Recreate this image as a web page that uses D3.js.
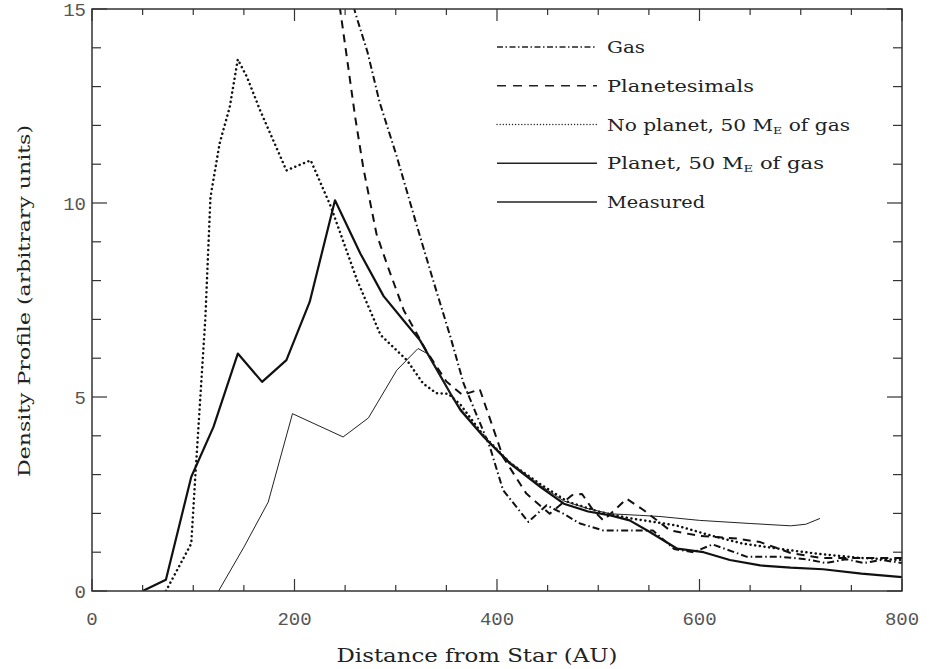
<!DOCTYPE html>
<html>
<head>
<meta charset="utf-8">
<script src="https://cdn.jsdelivr.net/npm/d3@7"></script>
<style>
  body { margin: 0; background: #fff; }
  svg { display: block; }
</style>
</head>
<body>
<svg id="chart" width="929" height="669"></svg>
<script>
// ---- data (x = distance in AU, y = density) ----
const gasData = [[252,15.8],[260,14.9],[272,13.9],[284,12.6],[301,11.2],[321,9.4],[337,8.0],[354,6.55],[367,5.35],[393,3.71],[406,2.6],[431,1.78],[449,2.21],[465,2.0],[482,1.74],[505,1.56],[554,1.56],[575,1.08],[594,1.0],[613,1.2],[647,0.88],[680,0.88],[705,0.82],[725,0.72],[745,0.82],[762,0.72],[780,0.8],[800,0.72]];
const planetesimalData = [[240,16.5],[245,15.0],[252,13.7],[260,12.2],[268,10.9],[281,9.2],[293,8.3],[308,7.23],[330,6.2],[350,5.4],[366,5.05],[383,5.2],[406,3.45],[429,2.51],[452,1.99],[474,2.47],[484,2.5],[495,2.08],[505,1.82],[518,2.13],[528,2.38],[545,2.08],[571,1.56],[600,1.42],[637,1.35],[660,1.26],[690,0.98],[720,0.85],[760,0.85],[800,0.85]];
const noPlanetData = [[73,0],[98,1.22],[102,2.94],[112,7.06],[117,10.15],[126,11.53],[136,12.47],[144,13.7],[153,13.25],[166,12.39],[192,10.84],[216,11.1],[236,9.9],[262,8.0],[285,6.6],[311,5.95],[327,5.35],[340,5.1],[352,5.08],[364,4.8],[387,4.0],[413,3.3],[443,2.75],[470,2.3],[500,2.05],[530,1.88],[577,1.69],[610,1.44],[643,1.22],[689,1.05],[720,0.95],[760,0.85],[800,0.8]];
const planetData = [[50,0],[73,0.29],[98,2.94],[120,4.23],[144,6.12],[168,5.39],[192,5.95],[215,7.45],[240,10.07],[265,8.7],[288,7.6],[310,6.9],[324,6.46],[354,5.09],[364,4.66],[387,3.97],[413,3.28],[443,2.68],[466,2.25],[490,2.05],[512,1.95],[531,1.82],[551,1.52],[578,1.09],[604,1.0],[630,0.8],[660,0.66],[690,0.6],[722,0.56],[760,0.45],[800,0.36]];
const measuredData = [[125,0],[150,1.13],[174,2.29],[198,4.57],[248,3.97],[273,4.46],[301,5.69],[322,6.25],[331,6.12],[350,5.26],[364,4.7],[387,4.0],[413,3.32],[443,2.72],[466,2.32],[490,2.12],[512,1.99],[541,1.95],[561,1.92],[600,1.82],[650,1.74],[690,1.68],[705,1.72],[719,1.87]];

const seriesNames = ["Gas", "Planetesimals", "No planet, 50 M|E| of gas", "Planet, 50 M|E| of gas", "Measured"];
const xTicks = [0, 200, 400, 600, 800];
const yTicks = [0, 5, 10, 15];
const xTitle = "Distance from Star (AU)";
const yTitle = "Density Profile (arbitrary units)";

// ---- layout ----
const svg = d3.select("#chart");
const L = 92, R = 902, T = 9, B = 591;
const x = d3.scaleLinear().domain([0, 800]).range([L, R]);
const y = d3.scaleLinear().domain([0, 15]).range([B, T]);

const styles = [
  { data: gasData, dash: "7,3,1.5,3", cap: "butt", width: 2.0, color: "#111", legDash: "6,2.5,1.5,2.5", legCap: "butt" },
  { data: planetesimalData, dash: "8,6", cap: "butt", width: 2.0, color: "#111", legDash: "9,7", legCap: "butt" },
  { data: noPlanetData, dash: "0.1,4.6", cap: "round", width: 2.5, color: "#111", legDash: "0.1,3", legCap: "round" },
  { data: planetData, dash: null, cap: "butt", width: 2.2, color: "#111", legDash: null, legCap: "butt" },
  { data: measuredData, dash: null, cap: "butt", width: 1.0, color: "#222", legDash: null, legCap: "butt" }
];

svg.append("clipPath").attr("id", "clip")
  .append("rect").attr("x", L).attr("y", T).attr("width", R - L).attr("height", B - T);

const line = d3.line().x(d => x(d[0])).y(d => y(d[1]));
const g = svg.append("g").attr("clip-path", "url(#clip)");
styles.forEach(s => {
  g.append("path").datum(s.data)
    .attr("d", line)
    .attr("fill", "none")
    .attr("stroke", s.color)
    .attr("stroke-width", s.width)
    .attr("stroke-linejoin", "round")
    .attr("stroke-linecap", s.cap)
    .attr("stroke-dasharray", s.dash);
});

// ---- axes (box with ticks on all sides) ----
const axisColor = "#333";
const xMinor = d3.range(0, 801, 50);
const yMinor = d3.range(0, 16, 1);
function tickLines(gr, data, fn) {
  gr.selectAll(null).data(data).enter().append("line").each(fn)
    .attr("stroke", axisColor).attr("stroke-width", 1.2);
}
const ax = svg.append("g");
const xAxisB = d3.axisBottom(x).tickValues(xMinor).tickSize(0).tickFormat("");
ax.append("g").attr("transform", `translate(0,${B})`).call(xAxisB).call(gg => gg.select(".domain").remove());
tickLines(ax, xMinor, function(d) {
  const len = (d % 200 === 0) ? 12 : 6;
  d3.select(this).attr("x1", x(d)).attr("x2", x(d)).attr("y1", B).attr("y2", B - len);
});
tickLines(ax, xMinor, function(d) {
  const len = (d % 200 === 0) ? 12 : 6;
  d3.select(this).attr("x1", x(d)).attr("x2", x(d)).attr("y1", T).attr("y2", T + len);
});
tickLines(ax, yMinor, function(d) {
  const len = (d % 5 === 0) ? 15 : 9;
  d3.select(this).attr("x1", L).attr("x2", L + len).attr("y1", y(d)).attr("y2", y(d));
});
tickLines(ax, yMinor, function(d) {
  const len = (d % 5 === 0) ? 15 : 9;
  d3.select(this).attr("x1", R).attr("x2", R - len).attr("y1", y(d)).attr("y2", y(d));
});
ax.append("rect").attr("x", L).attr("y", T).attr("width", R - L).attr("height", B - T)
  .attr("fill", "none").attr("stroke", axisColor).attr("stroke-width", 1.5);

// tick labels
const lblFont = "'Liberation Mono', 'DejaVu Sans Mono', monospace";
svg.append("g").selectAll("text").data(xTicks).enter().append("text")
  .attr("x", d => x(d)).attr("y", 625)
  .attr("text-anchor", "middle")
  .attr("font-family", lblFont).attr("font-size", 19).attr("fill", "#555")
  .text(d => d);
svg.append("g").selectAll("text").data(yTicks).enter().append("text")
  .attr("x", 86).attr("y", d => y(d) + 7)
  .attr("text-anchor", "end")
  .attr("font-family", lblFont).attr("font-size", 19).attr("fill", "#555")
  .text(d => d);

// axis titles
const titleFont = "'DejaVu Serif', 'Liberation Serif', serif";
svg.append("text").attr("x", 477).attr("y", 662)
  .attr("text-anchor", "middle")
  .attr("font-family", titleFont).attr("font-size", 18).attr("fill", "#222")
  .attr("textLength", 281).attr("lengthAdjust", "spacingAndGlyphs")
  .text(xTitle);
svg.append("text")
  .attr("transform", "translate(30,301) rotate(-90)")
  .attr("text-anchor", "middle")
  .attr("font-family", titleFont).attr("font-size", 17).attr("fill", "#222")
  .attr("textLength", 352).attr("lengthAdjust", "spacingAndGlyphs")
  .text(yTitle);

// ---- legend ----
const legFont = "'DejaVu Serif', 'Liberation Serif', serif";
const legRowY = d3.scalePoint().domain(seriesNames).range([47, 202]);
const leg = svg.append("g");
const legWidths = [38, 147, 243, 217, 98];
seriesNames.forEach((name, i) => {
  const s = styles[i];
  const yy = legRowY(name);
  leg.append("line").attr("x1", 497).attr("x2", 597).attr("y1", yy).attr("y2", yy)
    .attr("stroke", "#222").attr("stroke-width", 1.3)
    .attr("stroke-linecap", s.legCap)
    .attr("stroke-dasharray", s.legDash);
  const parts = name.split("|");
  const t = leg.append("text").attr("x", 607).attr("y", yy + 6)
    .attr("font-family", legFont).attr("font-size", 16).attr("fill", "#222")
    .attr("textLength", legWidths[i]).attr("lengthAdjust", "spacingAndGlyphs");
  t.append("tspan").text(parts[0]);
  if (parts.length > 1) {
    t.append("tspan").attr("font-size", 10).attr("dy", 3).text(parts[1]);
    t.append("tspan").attr("dy", -3).text(parts[2]);
  }
});
</script>
</body>
</html>
